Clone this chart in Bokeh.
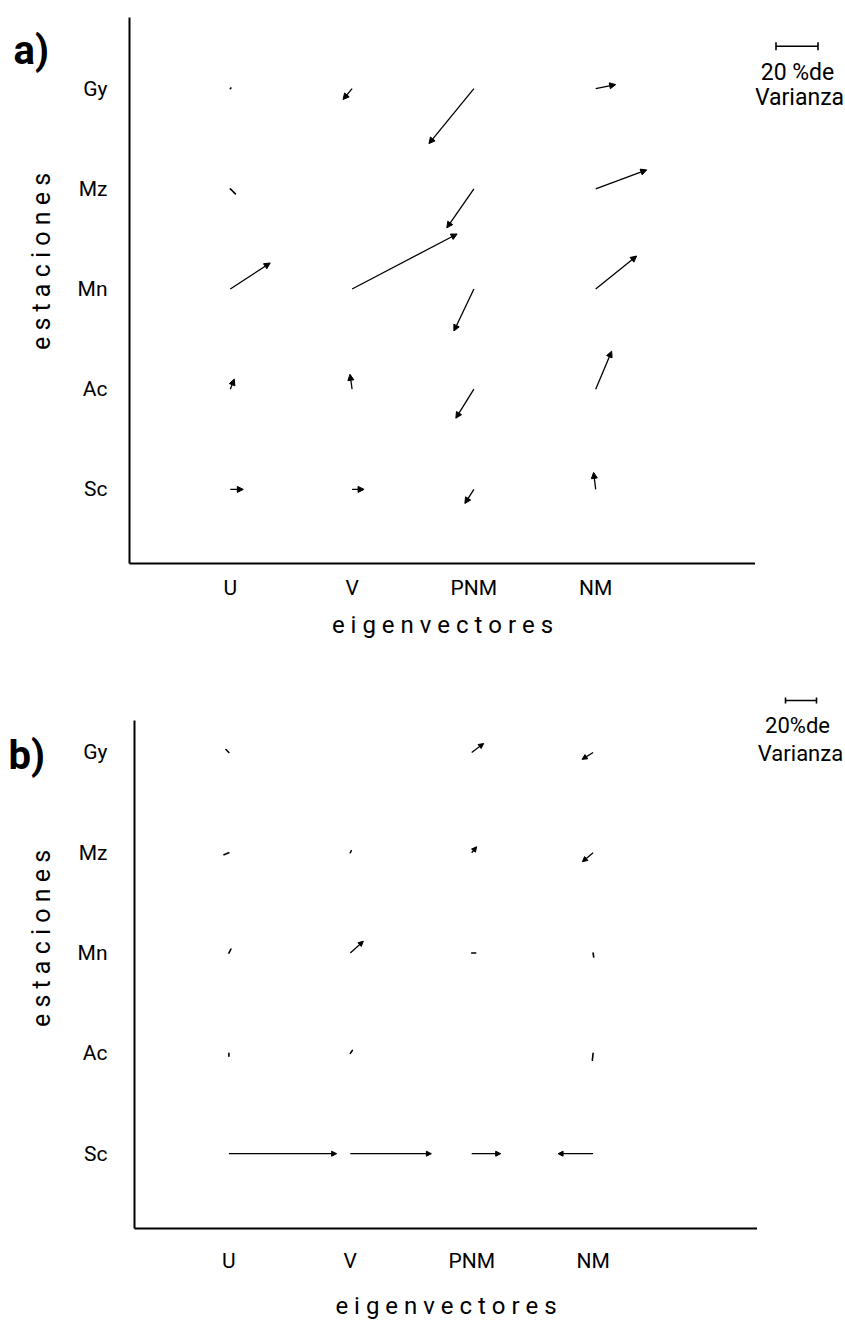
import math
from bokeh.plotting import figure
from bokeh.models import Range1d, FixedTicker, Arrow, NormalHead, ColumnDataSource
from bokeh.layouts import column, row
from bokeh.embed import file_html
from bokeh.resources import INLINE
from bokeh.core.properties import value

FONT = "Roboto"

# ---------------- data ----------------
columns = ["U", "V", "PNM", "NM"]
stations = ["Gy", "Mz", "Mn", "Ac", "Sc"]
x_title = "e i g e n v e c t o r e s"
y_title = "e s t a c i o n e s"
panel_tags = ["a)", "b)"]
scale_pct = 20
scale_text_a = ["20 %de", "Varianza"]
scale_text_b = ["20%de", "Varianza"]

# components of each vector in % of variance (east, north); None = no vector
a_east = [
    [0.3, -4.3, -21.4, 9.5],    # Gy
    [2.4, None, -12.9, 24.3],   # Mz
    [19.0, 50.0, -9.5, 19.5],   # Mn
    [1.9, -1.0, -8.6, 7.6],     # Ac
    [6.2, 5.7, -4.3, -1.0],     # Sc
]
a_north = [
    [0.3, -5.2, -26.2, 1.9],
    [-2.4, None, -18.6, 9.0],
    [12.4, 26.2, -20.0, 15.7],
    [4.8, 7.1, -13.8, 18.1],
    [0.0, 0.0, -6.7, 8.1],
]
b_east = [
    [-1.9, None, 7.7, -7.1],
    [-3.2, 0.6, 3.2, -6.9],
    [1.3, 8.4, 2.6, 0.4],
    [0.0, 1.3, None, -0.5],
    [69.5, 52.3, 18.7, -22.6],
]
b_north = [
    [1.9, None, 5.8, -4.5],
    [-1.3, 1.3, 3.9, -5.8],
    [2.6, 7.7, 0.0, -2.6],
    [-1.9, 1.9, None, -4.5],
    [0.0, 0.0, 0.0, 0.0],
]

# ---------------- layout (page pixels) ----------------
PAGE_RIGHT = 845
LEFT_W = 62

cfg_a = dict(east=a_east, north=a_north, tag=panel_tags[0], px_pct=2.1, stext=scale_text_a,
             fig_top=0, fig_h=650, frame=(129, 17, 755, 563),
             col0=229.8, dcol=121.8, row0=488.9, drow=100.2,
             xstand=12, ystand=22, xtstand=8,
             tag_pos=(13, 50), ytitle_pos=(41, 261), head=6,
             bar=(796.5, 45.7, 4), txt=[(797, 72), (799, 97)], lfont="23px")
cfg_b = dict(east=b_east, north=b_north, tag=panel_tags[1], px_pct=1.55, stext=scale_text_b,
             fig_top=650, fig_h=672, frame=(134, 720, 757, 1232),
             col0=228.4, dcol=121.4, row0=1156.6, drow=101.1,
             xstand=20, ystand=27, xtstand=16,
             tag_pos=(8, 755), ytitle_pos=(41, 938), head=5,
             bar=(800.5, 700, 3), txt=[(797, 725), (800, 753)], lfont="22px")


def bare_fig(x0, x1, top, h):
    f = figure(width=x1 - x0, height=h, output_backend="svg", toolbar_location=None,
               x_range=Range1d(x0, x1), y_range=Range1d(0, h),
               x_axis_type=None, y_axis_type=None, min_border=0, frame_align=False)
    f.outline_line_color = None
    f.grid.visible = False
    return f


def build(c):
    fl, ft, fr, fb = c["frame"]
    top, H = c["fig_top"], c["fig_h"]
    bottom = top + H

    def ys(v):  # page y -> local data y of bare figures
        return bottom - v

    # ---- left strip: panel tag + y title ----
    lf = bare_fig(0, LEFT_W, top, H)
    tx, ty = c["tag_pos"]
    lf.text(x=[tx], y=[ys(ty)], text=[c["tag"]], text_font=value(FONT), text_font_size="40px",
            text_font_style="bold", text_align="left", text_baseline="alphabetic", text_color="black")
    yx, yy = c["ytitle_pos"]
    lf.text(x=[yx], y=[ys(yy)], text=[y_title], angle=math.pi / 2, text_font=value(FONT),
            text_font_size="25px", text_align="center", text_baseline="middle", text_color="black")

    # ---- main plot ----
    p = figure(width=fr - LEFT_W, height=H, output_backend="svg", toolbar_location=None,
               x_range=Range1d((fl - c["col0"]) / c["dcol"], (fr - c["col0"]) / c["dcol"]),
               y_range=Range1d((c["row0"] - fb) / c["drow"], (c["row0"] - ft) / c["drow"]),
               min_border_left=fl - LEFT_W, min_border_right=0,
               min_border_top=ft - top, min_border_bottom=bottom - fb, frame_align=False)
    p.outline_line_color = None
    p.grid.visible = False
    p.background_fill_color = "white"
    p.border_fill_color = "white"

    p.xaxis.ticker = FixedTicker(ticks=list(range(len(columns))))
    p.xaxis.major_label_overrides = {i: s for i, s in enumerate(columns)}
    n = len(stations)
    p.yaxis.ticker = FixedTicker(ticks=list(range(n)))
    p.yaxis.major_label_overrides = {n - 1 - j: s for j, s in enumerate(stations)}
    for ax in (p.xaxis, p.yaxis):
        ax.axis_line_width = 2
        ax.axis_line_color = "black"
        ax.major_tick_line_color = None
        ax.minor_tick_line_color = None
        ax.major_tick_out = 0
        ax.major_tick_in = 0
        ax.minor_tick_out = 0
        ax.minor_tick_in = 0
        ax.major_label_text_font = FONT
        ax.major_label_text_font_size = "21px"
        ax.major_label_text_color = "black"
        ax.axis_label_text_font = FONT
        ax.axis_label_text_font_size = "24px"
        ax.axis_label_text_font_style = "normal"
        ax.axis_label_text_color = "black"
    p.xaxis.major_label_standoff = c["xstand"]
    p.yaxis.major_label_standoff = c["ystand"]
    p.xaxis.axis_label = x_title
    p.xaxis.axis_label_standoff = c["xtstand"]

    big = dict(x0=[], y0=[], x1=[], y1=[])
    small = dict(x0=[], y0=[], x1=[], y1=[])
    for j in range(n):
        for i in range(len(columns)):
            e = c["east"][j][i]
            nn = c["north"][j][i]
            if e is None:
                continue
            x0 = i
            y0 = n - 1 - j
            x1 = x0 + e * c["px_pct"] / c["dcol"]
            y1 = y0 + nn * c["px_pct"] / c["drow"]
            length_px = c["px_pct"] * math.hypot(e, nn)
            d = big if length_px >= 7.5 else small
            d["x0"].append(x0); d["y0"].append(y0); d["x1"].append(x1); d["y1"].append(y1)

    p.segment(x0="x0", y0="y0", x1="x1", y1="y1", source=ColumnDataSource(small),
              line_color="black", line_width=1.6, line_cap="round")
    p.add_layout(Arrow(end=NormalHead(size=c["head"], fill_color="black", line_color="black", line_width=1),
                       source=ColumnDataSource(big), x_start="x0", y_start="y0",
                       x_end="x1", y_end="y1", line_color="black", line_width=1.3))

    # ---- right strip: scale bar legend ----
    lg = bare_fig(fr, PAGE_RIGHT, top, H)
    bx, by, bh = c["bar"]
    half = scale_pct * c["px_pct"] / 2
    lg.segment(x0=[bx - half, bx - half, bx + half], y0=[ys(by), ys(by - bh), ys(by - bh)],
               x1=[bx + half, bx - half, bx + half], y1=[ys(by), ys(by + bh), ys(by + bh)],
               line_color="black", line_width=1.6)
    lg.text(x=[t[0] for t in c["txt"]], y=[ys(t[1]) for t in c["txt"]], text=c["stext"],
            text_font=value(FONT), text_font_size=c["lfont"], text_align="center",
            text_baseline="middle", text_color="black")
    return row(lf, p, lg)


layout = column(build(cfg_a), build(cfg_b))
open("out.html", "w").write(file_html(layout, INLINE))
